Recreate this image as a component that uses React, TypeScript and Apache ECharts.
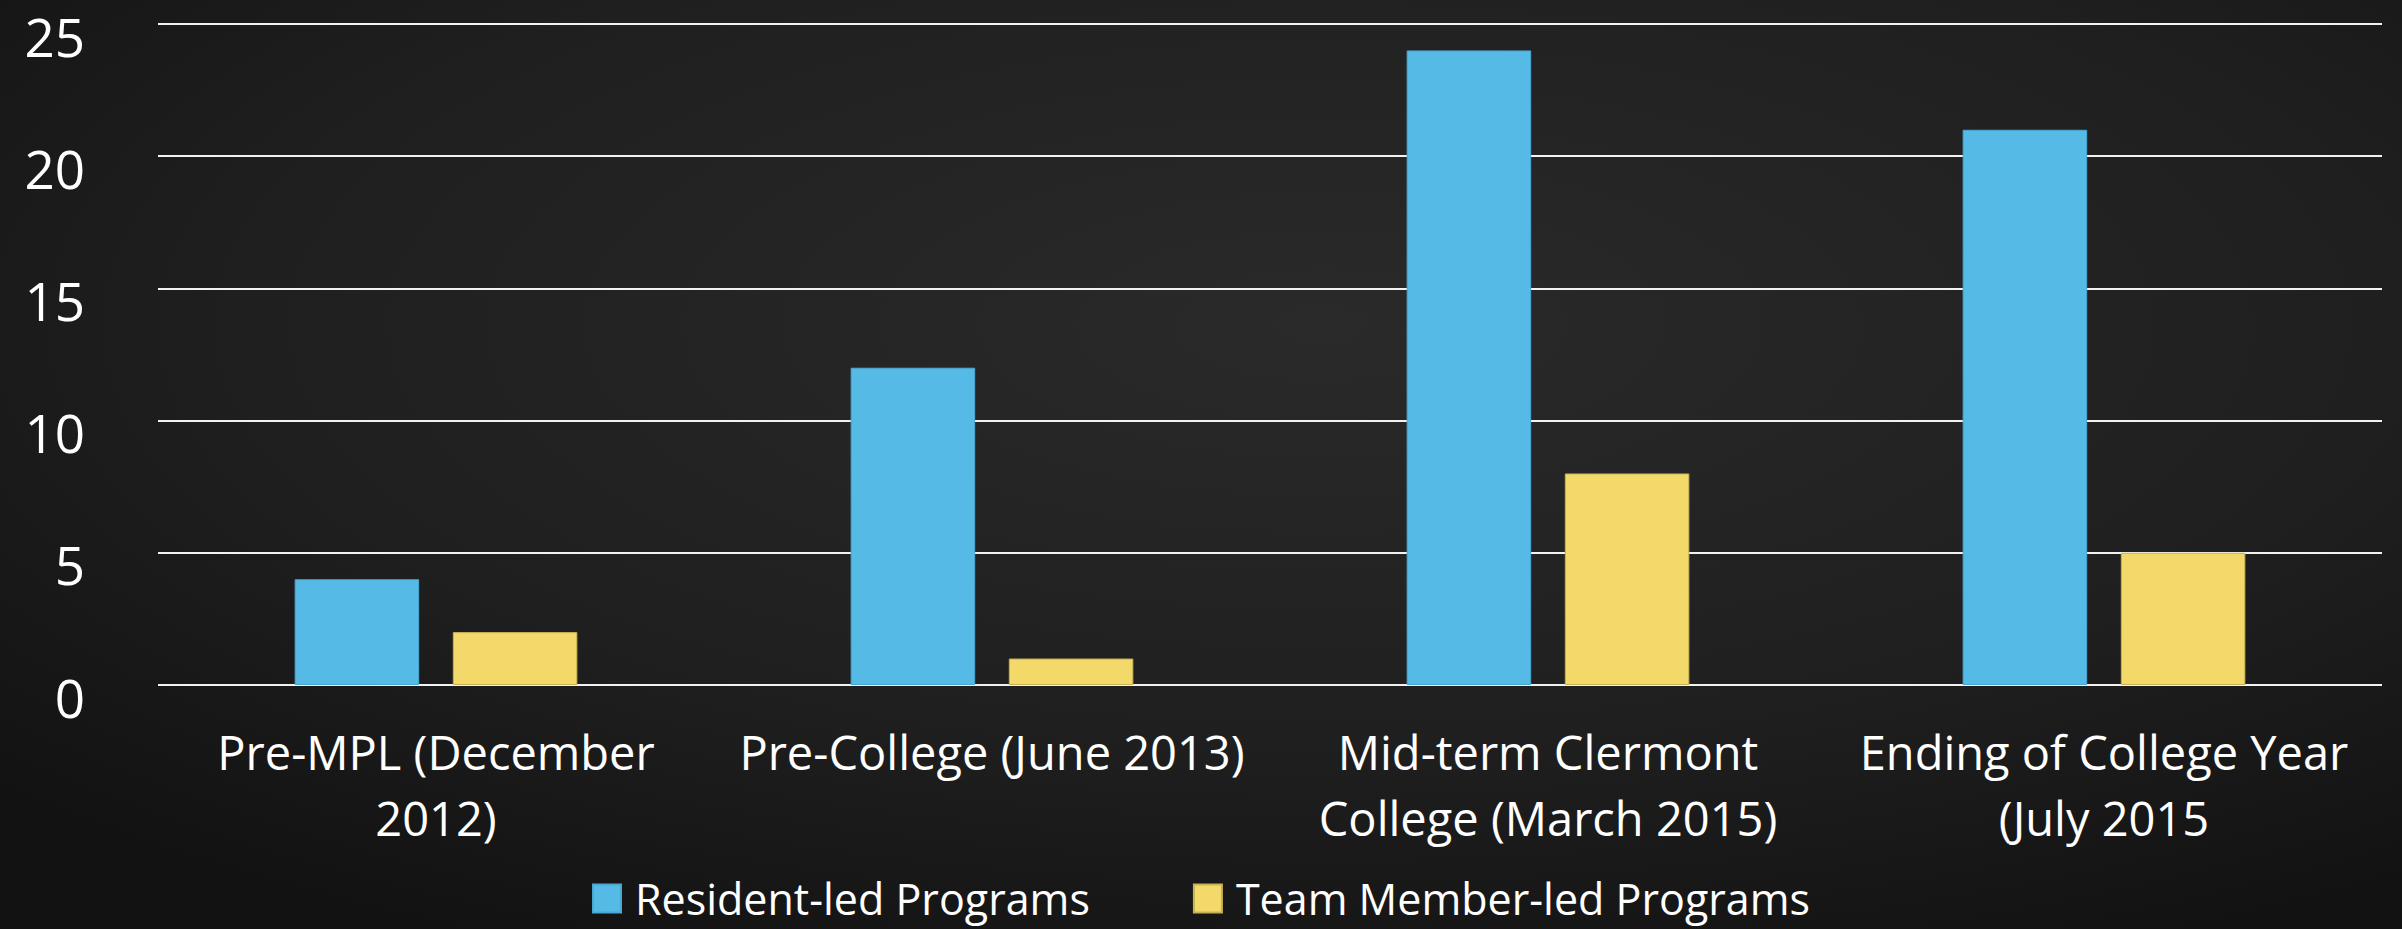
import React, { useEffect, useRef } from "react";
import * as echarts from "echarts";

const categories = [
  "Pre-MPL (December\n2012)",
  "Pre-College (June 2013)",
  "Mid-term Clermont\nCollege (March 2015)",
  "Ending of College Year\n(July 2015",
];
const residentLed = [4, 12, 24, 21];
const teamMemberLed = [2, 1, 8, 5];
const seriesNames = ["Resident-led Programs", "Team Member-led Programs"];
const yTicks = { min: 0, max: 25, interval: 5 };

const FONT = "Candara, 'Open Sans', 'Noto Sans', sans-serif";

export default function App() {
  const ref = useRef<HTMLDivElement>(null);
  useEffect(() => {
    if (!ref.current) return;
    const chart = echarts.init(ref.current, undefined, { renderer: "svg" });
    chart.setOption({
      animation: false,
      backgroundColor: {
        type: "radial",
        x: 0.55,
        y: 0.35,
        r: 0.75,
        colorStops: [
          { offset: 0, color: "#2a2a2a" },
          { offset: 0.6, color: "#1f1f1f" },
          { offset: 1, color: "#121212" },
        ],
      },
      grid: { left: 158, right: 20, top: 24, bottom: 244, containLabel: false },
      legend: {
        data: seriesNames,
        top: 877,
        left: "center",
        padding: 0,
        itemWidth: 28,
        itemHeight: 28,
        itemGap: 103,
        icon: "rect",
        textStyle: {
          color: "#ffffff",
          fontSize: 43,
          fontFamily: FONT,
          lineHeight: 40,
          padding: [0, 0, 0, 9],
        },
      },
      xAxis: {
        type: "category",
        data: categories,
        axisLine: { show: false },
        axisTick: { show: false },
        axisLabel: {
          color: "#ffffff",
          fontSize: 47,
          fontFamily: FONT,
          lineHeight: 66,
          margin: 34,
          interval: 0,
          align: "center",
        },
      },
      yAxis: {
        type: "value",
        min: yTicks.min,
        max: yTicks.max,
        interval: yTicks.interval,
        axisLine: { show: false },
        axisTick: { show: false },
        splitLine: { show: true, lineStyle: { color: "#f2f2f2", width: 2 } },
        axisLabel: {
          color: "#ffffff",
          fontSize: 53,
          fontFamily: FONT,
          lineHeight: 24,
          verticalAlign: "top",
          margin: 73,
        },
      },
      series: [
        {
          name: seriesNames[0],
          type: "bar",
          data: residentLed,
          barWidth: "22.4%",
          barGap: "27%",
          itemStyle: { color: "#55BAE5", borderColor: "#4aa9d3", borderWidth: 1 },
        },
        {
          name: seriesNames[1],
          type: "bar",
          data: teamMemberLed,
          barWidth: "22.4%",
          itemStyle: { color: "#F3D86A", borderColor: "#c9b155", borderWidth: 1 },
        },
      ],
    });
    return () => chart.dispose();
  }, []);
  return (
    <div
      ref={ref}
      style={{ position: "absolute", left: 0, top: 0, width: 2402, height: 929 }}
    />
  );
}
